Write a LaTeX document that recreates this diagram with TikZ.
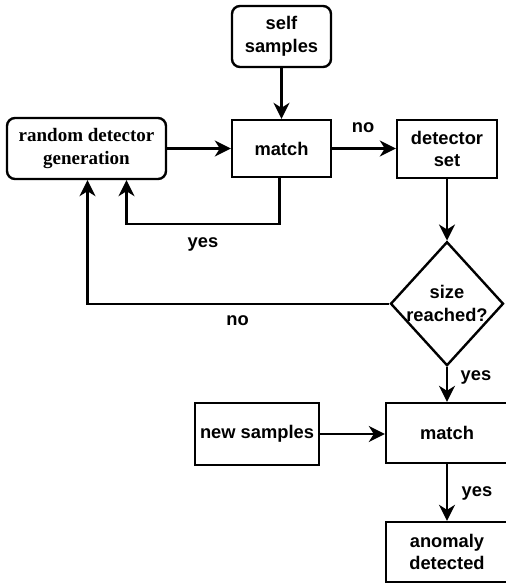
\documentclass[tikz,border=0pt]{standalone}
\usepackage{fontspec}
\setmainfont{Liberation Sans}
\newfontfamily\serifbf{Liberation Serif}
\usetikzlibrary{arrows.meta,shapes.geometric}
\begin{document}
\begin{tikzpicture}[x=1pt,y=-1pt, line width=2.4pt,
  font=\fontsize{18.3}{22.5}\selectfont\bfseries,
  box/.style={draw, inner sep=0pt, align=center},
  rbox/.style={box, rounded corners=8pt},
  arr/.style={-{Stealth[length=16pt,width=16pt,inset=5pt]}},
  lbl/.style={anchor=base, inner sep=0pt}]
\useasboundingbox (0,0) rectangle (506,587);
\node[rbox, minimum width=99pt, minimum height=61pt] (self) at (281.5,36.5) {self\\samples};
\node[rbox, minimum width=159pt, minimum height=61pt, font=\fontsize{19}{22.5}\serifbf\bfseries] (rdg) at (86.5,148.5) {random detector\\generation};
\node[box, minimum width=99pt, minimum height=57pt] (m1) at (281.5,148.5) {match};
\node[box, minimum width=100pt, minimum height=58pt] (ds) at (447,149) {detector\\set};
\node[diamond, draw, minimum width=113pt, minimum height=124pt, inner sep=0pt] (dia) at (447,303.7) {};
\node[align=center, inner sep=0pt] (diat) at (dia.center) {size\\reached?};
\node[box, minimum width=122pt, minimum height=60pt] (m2) at (447,433) {match};
\node[box, minimum width=124pt, minimum height=62pt] (ns) at (257,434) {new samples};
\node[box, minimum width=122pt, minimum height=60pt] (an) at (447,552) {anomaly\\detected};
\draw[arr] (self.south) -- (m1.north);
\draw[arr] (rdg.east) -- (m1.west);
\draw[arr] (m1.east) -- (ds.west |- m1.east);
\draw[arr] (ds.south) -- (dia.north);
\draw[arr] (dia.south) -- (m2.north);
\draw[arr] (ns.east) -- (ns.east -| m2.west);
\draw[arr] (m2.south) -- (an.north);
\draw[arr] ([xshift=-2pt]m1.south) -- ++(0,46) -| ([xshift=40pt]rdg.south);
\draw[arr] (dia.west) -| ([xshift=1pt]rdg.south);
\node[lbl] (lno1) at (363,132) {no};
\node[lbl] (lyes1) at (203,247) {yes};
\node[lbl] (lno2) at (237.5,325) {no};
\node[lbl] (lyes2) at (476,380) {yes};
\node[lbl] (lyes3) at (477,496) {yes};
\end{tikzpicture}
\end{document}
